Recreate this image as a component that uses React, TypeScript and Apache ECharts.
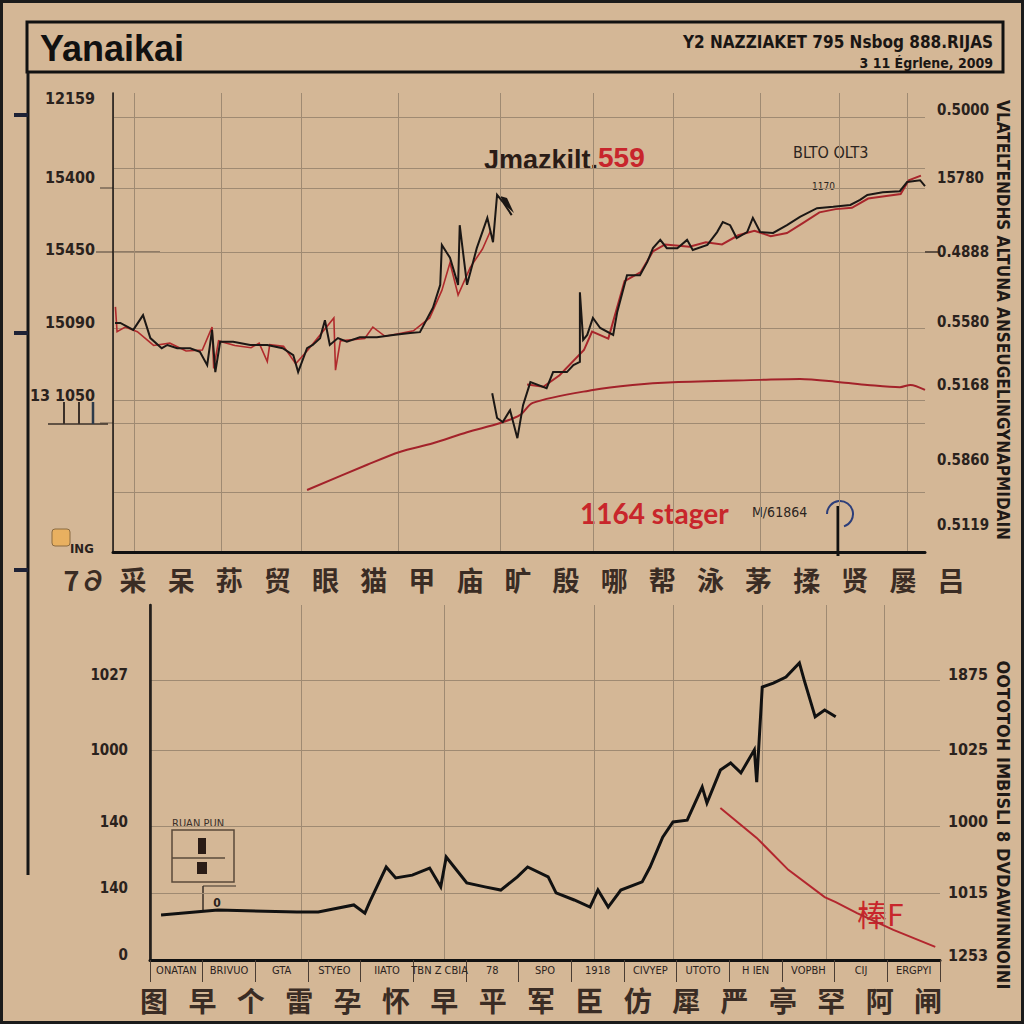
import React, { useEffect, useRef } from "react";
import * as echarts from "echarts";

// ---------- DATA ----------
const topXSplits = [2.6, 13.3, 23.2, 35.1, 47.7, 59.1, 69.0, 79.7, 89.4, 97.8];
const topYSplits = [94.8, 83.7, 79.3, 65.4, 48.8, 33.1, 28.1, 13.1];
const topLeftTickPos = [98.9, 81.5, 65.8, 50.1, 34.2];
const topLeftTicks = ["12159", "15400", "15450", "15090", "13 1050"];
const topRightTickPos = [96.3, 81.5, 65.4, 50.1, 36.4, 20.0, 5.9];
const topRightTicks = ["0.5000", "15780", "0.4888", "0.5580", "0.5168", "0.5860", "0.5119"];

const botXSplits = [19.2, 37.3, 56.2, 66.2, 77.5, 85.6, 93.0];
const botYSplits = [78.9, 59.2, 37.7, 18.9];
const botLeftTickPos = [80.3, 59.2, 38.9, 20.3, 1.4];
const botLeftTicks = ["1027", "1000", "140", "140", "0"];
const botRightTickPos = [80.3, 59.2, 38.9, 18.9, 1.4];
const botRightTicks = ["1875", "1025", "1000", "1015", "1253"];

const topCJK = ["7∂", "采", "呆", "荪", "贸", "眼", "猫", "甲", "庙", "旷", "殷", "哪", "帮", "泳", "茅", "揉", "贤", "屡", "吕"];
const botSmall = ["ONATAN", "BRIVUO", "GTA", "STYEO", "IIATO", "TBN Z CBIA", "78", "SPO", "1918", "CIVYEP", "UTOTO", "H IEN", "VOPBH", "CIJ", "ERGPYI"];
const botCJK = ["图", "早", "个", "雷", "孕", "怀", "早", "平", "军", "臣", "仿", "犀", "严", "亭", "罕", "阿", "闸"];

const topBlackA = [
  [0.25, 49.9], [0.9, 49.9], [2.5, 48.4], [3.7, 51.6], [4.6, 46.6], [6.0, 44.4], [6.7, 45.1], [7.9, 44.4],
  [9.5, 44.4], [10.7, 43.6], [11.6, 40.7], [12.2, 48.4], [12.6, 39.2], [13.2, 45.8], [14.8, 45.8], [16.9, 45.1],
  [19.0, 45.1], [20.9, 44.4], [22.2, 42.9], [22.8, 39.2], [23.9, 44.4], [24.6, 45.1], [25.5, 46.6], [26.1, 50.5],
  [26.7, 45.1], [27.7, 46.6], [28.8, 45.8], [30.4, 46.8], [32.5, 46.8], [34.5, 47.3], [36.6, 47.7], [37.8, 47.9],
  [39.4, 53.2], [40.3, 58.2], [40.5, 66.9], [41.5, 64.1], [42.5, 58.2], [42.7, 71.2], [43.6, 58.2], [44.8, 66.2],
  [46.1, 72.8], [46.8, 67.5], [47.3, 77.8], [48.0, 76.3], [49.1, 73.4]
];
const topBlackB = [
  [46.7, 34.6], [47.3, 29.2], [48.0, 28.3], [48.9, 30.9], [49.8, 24.8], [50.5, 32.0], [51.4, 37.0], [53.4, 35.7],
  [54.2, 39.2], [55.9, 39.2], [56.7, 40.7], [57.5, 41.4], [57.5, 56.6], [57.9, 46.2], [58.4, 47.3], [59.1, 51.0],
  [60.0, 48.8], [61.6, 47.3], [62.1, 52.3], [63.3, 60.3], [64.9, 60.3], [65.8, 63.2], [66.5, 66.2], [67.4, 68.0],
  [68.2, 66.2], [69.5, 66.2], [70.7, 68.0], [71.4, 65.8], [73.2, 66.9], [74.4, 69.7], [75.1, 71.9], [76.0, 71.2],
  [76.8, 68.4], [78.1, 69.7], [78.8, 72.8], [79.7, 69.7], [81.3, 69.5], [83.0, 71.2], [84.6, 73.0], [86.7, 74.9],
  [88.7, 75.2], [90.8, 75.6], [92.0, 76.7], [92.9, 77.8], [94.8, 78.4], [96.9, 78.6], [97.8, 80.6], [99.4, 81.0], [100, 79.7]
];
const topRedSmooth = [
  [23.9, 13.5], [31.3, 19.0], [35.3, 21.8], [39.4, 23.7], [43.6, 26.1], [47.7, 28.1], [50.1, 29.8], [51.7, 32.5],
  [59.1, 35.3], [64.0, 36.4], [69.0, 37.0], [79.7, 37.5], [84.6, 37.7], [89.5, 37.0], [92.9, 36.4], [96.9, 35.9],
  [98.2, 36.4], [100, 35.3]
];
const topRedA = [
  [0.3, 53.4], [0.5, 48.0], [1.5, 49.0], [3, 48.0], [5, 45], [7, 45.5], [9, 43.8], [11, 44], [12.2, 49], [12.4, 40],
  [13, 46], [15, 45], [17, 44.5], [18, 45.5], [19, 41.5], [19.3, 45.2], [21, 44.8], [22.5, 41], [24, 44], [27.2, 51],
  [27.4, 39.6], [28, 46], [31, 46.5], [32, 49], [33.5, 47], [35, 47.5], [37, 48.2], [39, 51], [40.5, 57], [41.5, 63],
  [42.5, 56], [44, 62], [45.5, 66], [46.5, 70]
];
const topRedB = [
  [51, 36.5], [53, 36], [55, 38.5], [58, 44], [59, 48], [61, 46.5], [63, 59], [65, 61], [66.5, 65.5], [68, 67],
  [71, 66.5], [73, 67.5], [75, 67], [77, 69], [79, 70], [81, 68.8], [83, 69.5], [85, 71.7], [87, 74], [89, 74.7],
  [91, 75], [93, 77], [95, 77.5], [97, 78], [98, 81], [99.5, 82]
];
const botBlack = [
  [1.4, 12.7], [8.6, 14.1], [18.6, 13.5], [21.3, 13.5], [25.8, 15.5], [27.2, 13.2], [27.8, 16.3], [29.9, 26.2],
  [31.1, 23.1], [33.2, 23.9], [35.4, 25.9], [36.8, 20.6], [37.5, 29.0], [38.5, 26.2], [40.1, 21.7], [42.4, 20.6],
  [44.4, 19.7], [46.5, 23.4], [47.8, 26.2], [50.4, 23.4], [51.4, 18.9], [53.7, 16.9], [55.7, 14.9], [56.7, 19.7],
  [58.0, 14.9], [59.6, 19.7], [62.3, 22.0], [63.3, 26.2], [64.9, 34.6], [66.2, 38.9], [68.0, 39.4], [69.9, 48.7],
  [70.5, 44.2], [72.2, 53.5], [73.5, 55.5], [74.8, 52.7], [76.5, 59.2], [76.8, 50.1], [77.5, 76.9], [78.9, 78.0],
  [80.5, 79.7], [82.2, 83.7], [82.8, 78.9], [84.2, 68.5], [85.4, 70.4], [86.8, 68.5]
];
const botRed = [
  [72.2, 42.8], [76.8, 34.4], [80.8, 25.4], [85.4, 17.7], [86.8, 16.3], [89.5, 13.2], [94.1, 8.5], [99.4, 3.7]
];

// ---------- STYLE ----------
const BG = "#d4b796";
const GRID = "#9f8a72";
const INK = "#2a221d";
const COND = '"Liberation Sans Narrow", "DejaVu Sans Condensed", "Liberation Sans", sans-serif';
const SANS = '"Liberation Sans", Arial, sans-serif';
const CJK = '"Noto Sans CJK SC", sans-serif';

const lookup = (pos: number[], labels: string[]) => (v: number) => {
  const i = pos.findIndex((p) => Math.abs(p - v) < 0.01);
  return i >= 0 ? labels[i] : "";
};

const hiddenAxis = { show: false };

export default function App() {
  const ref = useRef<HTMLDivElement>(null);
  useEffect(() => {
    if (!ref.current) return;
    document.body.style.margin = "0";
    const chart = echarts.init(ref.current, null, { renderer: "svg" });
    const lineSeries = (name: string, data: number[][], xi: number, yi: number, color: string, width: number, z = 3, smooth: any = false) => ({
      name, type: "line", data, xAxisIndex: xi, yAxisIndex: yi, showSymbol: false, symbol: "none", smooth, z,
      lineStyle: { color, width, join: "miter" }, silent: true,
    });
    const option: any = {
      animation: false,
      backgroundColor: BG,
      grid: [
        { left: 113, top: 93, width: 812, height: 459 },
        { left: 150, top: 605, width: 790, height: 355 },
        { left: 85, top: 556, width: 866, height: 1 },
        { left: 154, top: 982, width: 774, height: 1 },
      ],
      xAxis: [
        {
          gridIndex: 0, type: "value", min: 0, max: 100, position: "bottom",
          axisLine: { lineStyle: { color: "#3b3029", width: 1.5 } },
          axisTick: { show: false, customValues: topXSplits },
          axisLabel: { show: false },
          splitLine: { show: true, lineStyle: { color: GRID, width: 1 } },
        },
        {
          gridIndex: 0, type: "value", min: 0, max: 100, position: "top",
          axisLine: { lineStyle: { color: "#111", width: 3 } },
          axisTick: { show: false }, axisLabel: { show: false }, splitLine: { show: false },
        },
        {
          gridIndex: 1, type: "value", min: 0, max: 100, position: "bottom",
          axisLine: { lineStyle: { color: "#3b3029", width: 1.5 } },
          axisTick: { show: false, customValues: botXSplits },
          axisLabel: { show: false },
          splitLine: { show: true, lineStyle: { color: GRID, width: 1 } },
        },
        {
          gridIndex: 1, type: "value", min: 0, max: 100, position: "top",
          axisLine: { lineStyle: { color: "#111", width: 3 } },
          axisTick: { show: false }, axisLabel: { show: false }, splitLine: { show: false },
        },
        {
          gridIndex: 1, type: "category", data: botSmall, position: "bottom", boundaryGap: true,
          axisLine: { show: false },
          axisTick: { show: true, length: 22, lineStyle: { color: "#4a3d33", width: 1 } },
          axisLabel: { interval: 0, fontSize: 11, margin: 5, color: INK, fontFamily: COND },
          splitLine: { show: false },
        },
        {
          gridIndex: 2, type: "category", data: topCJK, boundaryGap: false,
          axisLine: { show: false }, axisTick: { show: false }, splitLine: { show: false },
          axisLabel: { interval: 0, fontSize: 27, margin: 9, color: "#3a2c24", fontFamily: CJK, fontWeight: "bold" },
        },
        {
          gridIndex: 3, type: "category", data: botCJK, boundaryGap: false,
          axisLine: { show: false }, axisTick: { show: false }, splitLine: { show: false },
          axisLabel: { interval: 0, fontSize: 28, margin: 3, color: "#3a2c24", fontFamily: CJK, fontWeight: "bold" },
        },
      ],
      yAxis: [
        {
          gridIndex: 0, type: "value", min: 0, max: 100, position: "left",
          axisLine: { show: true, lineStyle: { color: "#8f7b66", width: 1 } },
          axisTick: { show: false, customValues: topYSplits },
          splitLine: { show: true, lineStyle: { color: GRID, width: 1 } },
          axisLabel: {
            customValues: topLeftTickPos, formatter: lookup(topLeftTickPos, topLeftTicks),
            margin: 18, fontSize: 16, fontWeight: "bold", color: INK, fontFamily: COND,
          },
        },
        {
          gridIndex: 0, type: "value", min: 0, max: 100, position: "right",
          axisLine: { show: true, lineStyle: { color: "#1a1614", width: 1.5 } },
          axisTick: { show: false }, splitLine: { show: false },
          axisLabel: {
            customValues: topRightTickPos, formatter: lookup(topRightTickPos, topRightTicks),
            margin: 12, fontSize: 15, fontWeight: "bold", color: INK, fontFamily: COND,
          },
        },
        {
          gridIndex: 1, type: "value", min: 0, max: 100, position: "left",
          axisLine: { show: true, lineStyle: { color: "#161616", width: 2.5 } },
          axisTick: { show: false, customValues: botYSplits },
          splitLine: { show: true, lineStyle: { color: GRID, width: 1 } },
          axisLabel: {
            customValues: botLeftTickPos, formatter: lookup(botLeftTickPos, botLeftTicks),
            margin: 22, fontSize: 15, fontWeight: "bold", color: INK, fontFamily: COND,
          },
        },
        {
          gridIndex: 1, type: "value", min: 0, max: 100, position: "right",
          axisLine: { show: true, lineStyle: { color: "#2a221d", width: 1.5 } },
          axisTick: { show: false }, splitLine: { show: false },
          axisLabel: {
            customValues: botRightTickPos, formatter: lookup(botRightTickPos, botRightTicks),
            margin: 8, fontSize: 16, fontWeight: "bold", color: INK, fontFamily: COND,
          },
        },
        { gridIndex: 2, type: "value", ...hiddenAxis },
        { gridIndex: 3, type: "value", ...hiddenAxis },
      ],
      series: [
        lineSeries("redSmooth", topRedSmooth, 0, 0, "#a3222a", 2, 3, 0.3),
        lineSeries("redA", topRedA, 0, 0, "#b02a2c", 1.6, 3),
        lineSeries("redB", topRedB, 0, 0, "#a8262b", 2, 4),
        lineSeries("blackA", topBlackA, 0, 0, "#1b1715", 2, 5),
        lineSeries("blackB", topBlackB, 0, 0, "#1b1715", 2, 5),
        lineSeries("botRed", botRed, 2, 2, "#b3262e", 2, 4),
        lineSeries("botBlack", botBlack, 2, 2, "#111111", 3, 5),
      ],
      graphic: [
        { type: "rect", shape: { x: 1.5, y: 1.5, width: 1021, height: 1021 }, style: { fill: "none", stroke: "#1b1b1b", lineWidth: 3 } },
        { type: "rect", shape: { x: 27, y: 22, width: 976, height: 50 }, style: { fill: "none", stroke: "#111", lineWidth: 3 } },
        { type: "text", x: 40, y: 48, style: { text: "Yanaikai", fontSize: 36, fontWeight: "bold", fontFamily: SANS, fill: "#111", textVerticalAlign: "middle" } },
        { type: "text", x: 993, y: 42, style: { text: "Y2 NAZZIAKET 795 Nsbog 888.RIJAS", fontSize: 17, fontWeight: "bold", fontFamily: COND, fill: "#1a1614", textAlign: "right", textVerticalAlign: "middle" } },
        { type: "text", x: 993, y: 63, style: { text: "3 11 Égrlene, 2009", fontSize: 14, fontWeight: "bold", fontFamily: COND, fill: "#1a1614", textAlign: "right", textVerticalAlign: "middle" } },
        { type: "line", shape: { x1: 28, y1: 72, x2: 28, y2: 875 }, style: { stroke: "#161616", lineWidth: 3 } },
        { type: "line", shape: { x1: 14, y1: 115, x2: 28, y2: 115 }, style: { stroke: "#1e2235", lineWidth: 4 } },
        { type: "line", shape: { x1: 14, y1: 333, x2: 28, y2: 333 }, style: { stroke: "#1e2235", lineWidth: 4 } },
        { type: "line", shape: { x1: 14, y1: 570, x2: 28, y2: 570 }, style: { stroke: "#1e2235", lineWidth: 4 } },
        // stubs left of top chart
        { type: "line", shape: { x1: 100, y1: 188, x2: 113, y2: 188 }, style: { stroke: "#8f7b66", lineWidth: 2 } },
        { type: "line", shape: { x1: 96, y1: 252, x2: 160, y2: 252 }, style: { stroke: "#8f7b66", lineWidth: 2 } },
        { type: "line", shape: { x1: 100, y1: 423, x2: 113, y2: 423 }, style: { stroke: "#8f7b66", lineWidth: 1.5 } },
        { type: "line", shape: { x1: 925, y1: 252, x2: 940, y2: 252 }, style: { stroke: "#3b3029", lineWidth: 1.5 } },
        // small bar glyph
        { type: "polyline", shape: { points: [[48, 424], [108, 424]] }, style: { stroke: "#3b3029", lineWidth: 1.5, fill: "none" } },
        { type: "line", shape: { x1: 64, y1: 402, x2: 64, y2: 424 }, style: { stroke: "#3b3029", lineWidth: 2 } },
        { type: "line", shape: { x1: 79, y1: 402, x2: 79, y2: 424 }, style: { stroke: "#3b3029", lineWidth: 2 } },
        { type: "line", shape: { x1: 93, y1: 402, x2: 93, y2: 424 }, style: { stroke: "#2c3a4a", lineWidth: 2.5 } },
        // small icon bottom-left of top chart
        { type: "rect", shape: { x: 52, y: 529, width: 18, height: 17, r: 3 }, style: { fill: "#e8b060", stroke: "#8a6a40", lineWidth: 1 } },
        { type: "text", x: 70, y: 548, style: { text: "ING", fontSize: 13, fontWeight: "bold", fontFamily: COND, fill: INK, textVerticalAlign: "middle" } },
        // annotations top
        { type: "text", x: 484, y: 160, style: { text: "Jmazkilt.", fontSize: 27, fontWeight: "bold", fontFamily: SANS, fill: "#2a1c16", textVerticalAlign: "middle" } },
        { type: "text", x: 598, y: 157, style: { text: "559", fontSize: 28, fontWeight: "bold", fontFamily: SANS, fill: "#c8252c", textVerticalAlign: "middle" } },
        { type: "text", x: 793, y: 152, style: { text: "BLTO OLT3", fontSize: 16, fontFamily: COND, fill: "#2b2420", textVerticalAlign: "middle" } },
        { type: "text", x: 812, y: 186, style: { text: "1170", fontSize: 10, fontFamily: COND, fill: "#2b2420", textVerticalAlign: "middle" } },
        { type: "polygon", shape: { points: [[500, 196], [507, 198], [514, 213], [505, 205]] }, style: { fill: "#1b1715" } },
        { type: "text", x: 580, y: 513, style: { text: "1164 stager", fontSize: 28, fontWeight: "bold", fontFamily: '"Lato", "Open Sans", sans-serif', fill: "#c8262b", textVerticalAlign: "middle" } },
        { type: "text", x: 752, y: 512, style: { text: "M/61864", fontSize: 14, fontFamily: COND, fill: "#2b2420", textVerticalAlign: "middle" } },
        { type: "arc", shape: { cx: 840, cy: 514, r: 13, startAngle: Math.PI, endAngle: Math.PI * 2.4 }, style: { stroke: "#2c3e7a", lineWidth: 2, fill: "none" } },
        { type: "line", shape: { x1: 838, y1: 506, x2: 838, y2: 556 }, style: { stroke: "#111", lineWidth: 3 } },
        // bottom chart annotations
        { type: "text", x: 172, y: 823, style: { text: "RUAN PUN", fontSize: 11, fontFamily: COND, fill: "#3b3029", textVerticalAlign: "middle" } },
        { type: "rect", shape: { x: 172, y: 830, width: 62, height: 52 }, style: { fill: "none", stroke: "#5a4a3a", lineWidth: 1.5 } },
        { type: "line", shape: { x1: 172, y1: 858, x2: 225, y2: 858 }, style: { stroke: "#5a4a3a", lineWidth: 1.5 } },
        { type: "rect", shape: { x: 198, y: 838, width: 8, height: 16 }, style: { fill: "#2a1c16" } },
        { type: "rect", shape: { x: 197, y: 862, width: 10, height: 12 }, style: { fill: "#2a1c16" } },
        { type: "line", shape: { x1: 203, y1: 886, x2: 203, y2: 912 }, style: { stroke: "#3b3029", lineWidth: 1.5 } },
        { type: "line", shape: { x1: 203, y1: 886, x2: 236, y2: 886 }, style: { stroke: "#3b3029", lineWidth: 1 } },
        { type: "text", x: 217, y: 903, style: { text: "0", fontSize: 12, fontWeight: "bold", fontFamily: COND, fill: INK, textAlign: "center", textVerticalAlign: "middle" } },
        { type: "text", x: 857, y: 913, style: { text: "棒F", fontSize: 30, fontFamily: CJK, fill: "#c8262b", textVerticalAlign: "middle" } },
        // right vertical texts
        { type: "text", x: 1003, y: 320, rotation: -Math.PI / 2, style: { text: "VLATELTENDHS ALTUNA ANSEUGELINGYNAPMIDAIN", fontSize: 17, fontWeight: "bold", fontFamily: COND, fill: "#1f1a17", textAlign: "center", textVerticalAlign: "middle" } },
        { type: "text", x: 1003, y: 825, rotation: -Math.PI / 2, style: { text: "OOTOTOH IMBISLI 8 DVDAWINNOINI", fontSize: 18, fontWeight: "bold", fontFamily: COND, fill: "#1f1a17", textAlign: "center", textVerticalAlign: "middle" } },
      ],
    };
    chart.setOption(option);
    return () => chart.dispose();
  }, []);
  return <div ref={ref} style={{ position: "absolute", left: 0, top: 0, width: 1024, height: 1024 }} />;
}
